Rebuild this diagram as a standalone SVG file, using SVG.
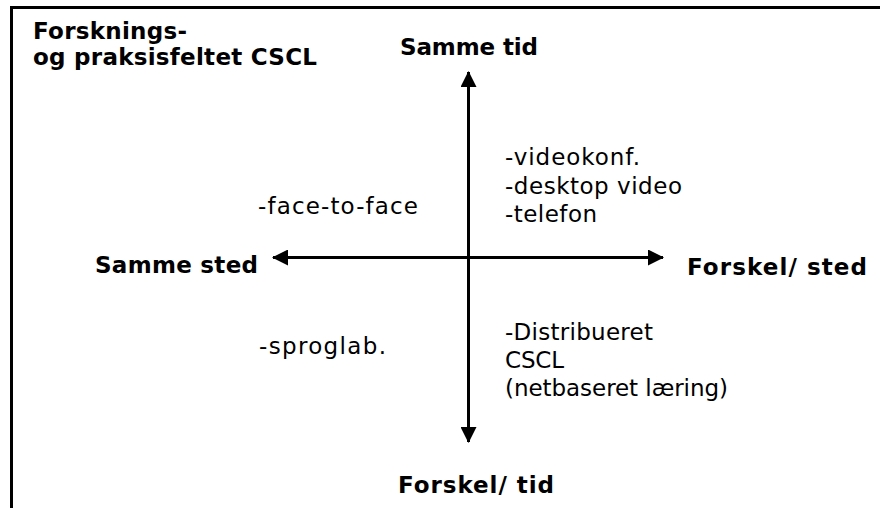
<svg xmlns="http://www.w3.org/2000/svg" width="880" height="508" viewBox="0 0 880 508">
<defs>
<style>
text{font-family:"DejaVu Sans","Liberation Sans",sans-serif;fill:#000}
.b{font-weight:bold;font-size:23px}
.r{font-size:23px}
.ax{stroke:#000;stroke-width:3;fill:none}
</style>
<marker id="ah" viewBox="0 0 16 16" refX="15" refY="8" markerWidth="16" markerHeight="16" markerUnits="userSpaceOnUse" orient="auto-start-reverse">
<path d="M0,0 L16,8 L0,16 Z" fill="#000"/>
</marker>
</defs>
<rect width="880" height="508" fill="#fff"/>
<path d="M11.5,508 V7.5 H880" stroke="#000" stroke-width="3" fill="none"/>
<g id="title">
<text class="b" x="33" y="39" textLength="154">Forsknings-</text>
<text class="b" x="33" y="65" textLength="284">og praksisfeltet CSCL</text>
</g>
<g id="connectors">
<line class="ax" x1="468.5" y1="72" x2="468.5" y2="442" marker-start="url(#ah)" marker-end="url(#ah)"/>
<line class="ax" x1="273" y1="257.5" x2="663" y2="257.5" marker-start="url(#ah)" marker-end="url(#ah)"/>
</g>
<g id="samme-tid"><text class="b" x="400" y="55" textLength="138">Samme tid</text></g>
<g id="forskel-tid"><text class="b" x="398" y="493" textLength="156">Forskel/ tid</text></g>
<g id="samme-sted"><text class="b" x="95" y="273" textLength="163">Samme sted</text></g>
<g id="forskel-sted"><text class="b" x="687" y="275" textLength="180">Forskel/ sted</text></g>
<g id="q-face"><text class="r" x="258" y="214" textLength="160">-face-to-face</text></g>
<g id="q-sprog"><text class="r" x="259" y="354" textLength="127">-sproglab.</text></g>
<g id="q-video">
<text class="r" x="505" y="165" textLength="135">-videokonf.</text>
<text class="r" x="505" y="194" textLength="177">-desktop video</text>
<text class="r" x="505" y="222" textLength="92">-telefon</text>
</g>
<g id="q-dist">
<text class="r" x="505" y="340" textLength="148">-Distribueret</text>
<text class="r" x="505" y="368" textLength="59">CSCL</text>
<text class="r" x="505" y="396" textLength="223">(netbaseret læring)</text>
</g>
</svg>
